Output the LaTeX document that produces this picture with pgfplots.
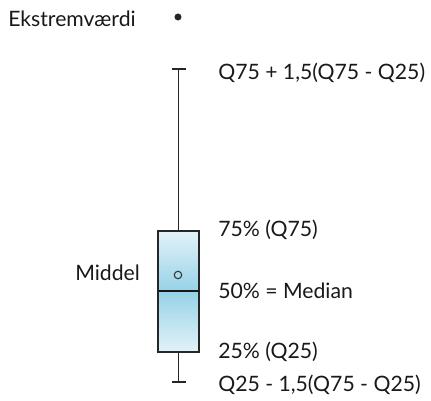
\documentclass[border=0pt]{standalone}
\usepackage{pgfplots}
\pgfplotsset{compat=1.18}
\usepgfplotslibrary{statistics}
\usepackage{fontspec}
\setmainfont{Lato}
\definecolor{boxedge}{HTML}{E3F2F8}
\definecolor{boxmid}{HTML}{96D2E7}
\tikzset{lbl/.style={anchor=west, inner sep=0pt, font=\fontsize{15.9}{18}\selectfont, text=black!90}}
\begin{document}
\begin{tikzpicture}
\begin{axis}[
    hide axis,
    scale only axis,
    width=323.25pt, height=300pt,
    xmin=0, xmax=431, ymin=0, ymax=400,
    clip=false,
]
% invisible frame to keep the full canvas
\path (axis cs:0,0) rectangle (axis cs:431,400);

% box plot (y = 400 - pixel row)
\addplot[
    boxplot/draw direction=y,
    boxplot prepared={
        lower whisker=18,
        lower quartile=48,
        median=109,
        upper quartile=169,
        upper whisker=331,
        draw position=178.5,
        box extend=41,
        whisker extend=14,
    },
    draw=black!85, line width=0.85pt,
    boxplot/every box/.style={draw=black!85, line width=0.85pt,
        top color=boxedge, bottom color=boxedge, middle color=boxmid},
    boxplot/every median/.style={draw=black!90, line width=1.2pt},
    boxplot/every whisker/.style={draw=black!85, line width=0.85pt},
] coordinates {};

% outlier
\addplot[only marks, mark=*, mark size=2.4pt, color=black!85] coordinates {(178,383)};
% mean
\addplot[only marks, mark=o, mark size=2.8pt, color=black!80, mark options={line width=0.8pt}] coordinates {(178,125)};

% labels
\node[lbl] at (axis cs:8,381) {Ekstremværdi};
\node[lbl] at (axis cs:218,327) {Q75 + 1,5(Q75 - Q25)};
\node[lbl] at (axis cs:218,170) {75\% (Q75)};
\node[lbl] at (axis cs:75,127) {Middel};
\node[lbl] at (axis cs:218,109) {50\% = Median};
\node[lbl] at (axis cs:218,48) {25\% (Q25)};
\node[lbl] at (axis cs:218,15) {Q25 - 1,5(Q75 - Q25)};
\end{axis}
\end{tikzpicture}
\end{document}
